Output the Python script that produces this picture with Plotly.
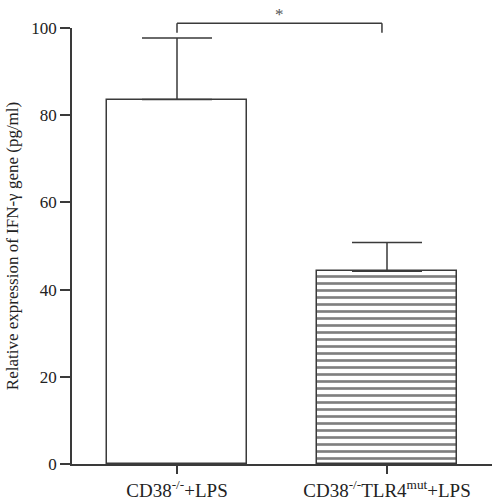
import plotly.graph_objects as go

categories = ["CD38<sup>-/-</sup>+LPS", "CD38<sup>-/-</sup>TLR4<sup>mut</sup>+LPS"]
means = [83.6, 44.2]
errors_up = [14.1, 6.6]
y_ticks = [0, 20, 40, 60, 80, 100]
sig_label = "*"

dark = "#3a3a3a"
font_family = "Liberation Serif"

fig = go.Figure()

fig.add_trace(go.Bar(
    x=[0], y=[means[0]],
    width=0.667,
    marker=dict(color="white", line=dict(color=dark, width=1.5)),
    error_y=dict(type="data", array=[errors_up[0]], arrayminus=[0], symmetric=False,
                 color=dark, thickness=1.5, width=35),
    showlegend=False,
))
fig.add_trace(go.Bar(
    x=[1], y=[means[1]],
    width=0.667,
    marker=dict(color="white", line=dict(color=dark, width=1.5),
                pattern=dict(shape="-", size=7, solidity=0.38,
                             fgcolor="#000000", bgcolor="white", fillmode="overlay")),
    error_y=dict(type="data", array=[errors_up[1]], arrayminus=[0], symmetric=False,
                 color=dark, thickness=1.5, width=35),
    showlegend=False,
))

# significance bracket (paper coords above the plot)
y_br = 101.1 / 100
y_tk = 98.9 / 100
x_r = 0.976
fig.add_shape(type="line", xref="x", yref="paper", x0=0, x1=0, y0=y_tk, y1=y_br,
              line=dict(color=dark, width=1.5))
fig.add_shape(type="line", xref="x", yref="paper", x0=0, x1=x_r, y0=y_br, y1=y_br,
              line=dict(color=dark, width=1.5))
fig.add_shape(type="line", xref="x", yref="paper", x0=x_r, x1=x_r, y0=y_tk, y1=y_br,
              line=dict(color=dark, width=1.5))
fig.add_annotation(x=x_r / 2, xref="x", y=y_br, yref="paper", text=sig_label,
                   showarrow=False, yanchor="bottom", yshift=-3,
                   font=dict(family=font_family, size=17, color="#555555"))

fig.update_layout(
    width=492, height=500,
    margin=dict(l=72, r=0, t=28, b=36, autoexpand=False),
    plot_bgcolor="white", paper_bgcolor="white",
    font=dict(family=font_family, color="#222222"),
    bargap=0,
)
fig.update_xaxes(
    range=[-0.5, 1.5],
    tickmode="array", tickvals=[0, 1], ticktext=categories,
    showline=True, linecolor=dark, linewidth=1.5,
    ticks="outside", ticklen=8, tickwidth=1.5, tickcolor=dark,
    showgrid=False, zeroline=False, automargin=False,
    tickfont=dict(family=font_family, size=19, color="#222222"),
)
fig.update_yaxes(
    range=[0, 100],
    tickmode="array", tickvals=y_ticks,
    showline=True, linecolor=dark, linewidth=1.5,
    ticks="outside", ticklen=10, tickwidth=1.5, tickcolor=dark,
    showgrid=False, zeroline=False, automargin=False,
    tickfont=dict(family=font_family, size=17, color="#222222"),
    title=dict(text="Relative expression of IFN-γ gene (pg/ml)", standoff=8,
               font=dict(family=font_family, size=17, color="#222222")),
)

fig.write_html("out.html", config={"displayModeBar": False},
               post_script="document.body.style.margin='0';document.body.style.padding='0';")
